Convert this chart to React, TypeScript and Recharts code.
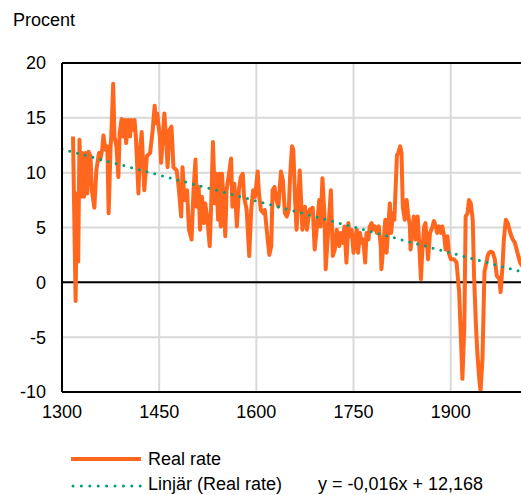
import React from "react";
import { LineChart, Line, XAxis, YAxis, CartesianGrid, ReferenceLine } from "recharts";

const years = [
  1317, 1321, 1323, 1325, 1327, 1329, 1331, 1334, 1336, 1339, 1341, 1344, 1346, 1350, 1353, 1357, 1359, 1362, 1364, 1367,
  1370, 1372, 1375, 1376, 1379, 1381, 1384, 1387, 1389, 1392, 1394, 1397, 1399, 1402, 1405, 1407, 1410, 1412, 1414, 1418,
  1420, 1423, 1427, 1431, 1436, 1440, 1443, 1445, 1447, 1451, 1453, 1456, 1458, 1461, 1463, 1466, 1469, 1472, 1477, 1480,
  1484, 1486, 1489, 1493, 1496, 1500, 1503, 1506, 1508, 1511, 1513, 1516, 1519, 1521, 1524, 1528, 1530, 1533, 1536, 1538,
  1541, 1543, 1545, 1547, 1550, 1552, 1554, 1557, 1561, 1563, 1566, 1570, 1573, 1576, 1579, 1581, 1585, 1589, 1592, 1595,
  1598, 1602, 1604, 1607, 1611, 1613, 1617, 1620, 1623, 1625, 1628, 1631, 1634, 1638, 1641, 1644, 1647, 1650, 1652, 1655,
  1657, 1660, 1662, 1667, 1671, 1675, 1678, 1682, 1687, 1690, 1693, 1697, 1699, 1702, 1705, 1707, 1711, 1715, 1718, 1721,
  1724, 1728, 1730, 1733, 1736, 1739, 1742, 1744, 1747, 1750, 1752, 1755, 1757, 1760, 1762, 1765, 1768, 1770, 1773, 1775,
  1778, 1780, 1783, 1786, 1789, 1792, 1793, 1796, 1799, 1801, 1803, 1806, 1808, 1811, 1813, 1817, 1819, 1822, 1824, 1826,
  1829, 1832, 1834, 1837, 1838, 1841, 1843, 1846, 1849, 1851, 1854, 1856, 1859, 1861, 1865, 1868, 1872, 1874, 1877, 1879,
  1882, 1885, 1887, 1890, 1892, 1895, 1897, 1900, 1905, 1909, 1913, 1916, 1918, 1921, 1923, 1926, 1928, 1931, 1934, 1936,
  1939, 1941, 1944, 1946, 1949, 1952, 1954, 1957, 1959, 1962, 1965, 1968, 1971, 1975, 1977, 1980, 1982, 1985, 1988, 1992,
  1995, 1999, 2003, 2007, 2010,
];

const realRate = [
  13.3, -1.7, 8.1, 1.9, 13.0, 7.8, 11.8, 7.8, 11.8, 8.1, 11.9, 11.5, 8.4, 6.8, 10.2, 11.8, 11.2, 12.1, 13.4, 12.1,
  12.4, 6.3, 12.4, 13.3, 18.1, 13.3, 12.4, 9.6, 13.6, 14.9, 13.3, 14.8, 12.7, 14.8, 13.3, 14.8, 13.9, 14.8, 13.3, 8.1,
  11.8, 13.7, 8.4, 11.5, 11.8, 13.9, 16.1, 14.5, 15.4, 13.3, 10.9, 13.6, 15.4, 12.7, 10.5, 13.9, 14.2, 10.5, 10.2, 8.7,
  6.0, 10.5, 7.5, 8.4, 4.8, 3.9, 8.4, 11.2, 6.9, 8.7, 4.8, 7.8, 5.4, 7.2, 6.0, 3.3, 6.6, 12.8, 7.2, 9.9,
  5.7, 9.9, 5.1, 9.9, 6.9, 4.2, 8.4, 9.6, 11.3, 6.9, 9.0, 5.1, 8.4, 9.6, 9.9, 7.8, 6.6, 2.4, 6.6, 8.4,
  7.8, 10.1, 8.1, 6.6, 6.3, 6.6, 4.2, 2.5, 3.3, 8.4, 8.7, 7.5, 6.9, 10.1, 9.3, 6.3, 6.0, 6.6, 9.6, 12.4,
  12.1, 7.2, 4.8, 10.2, 4.8, 6.9, 4.8, 6.6, 6.8, 3.0, 4.8, 7.5, 5.1, 9.5, 6.3, 1.2, 4.8, 8.4, 2.4, 3.0,
  4.8, 3.3, 4.5, 3.6, 5.1, 1.8, 5.4, 4.2, 4.8, 2.7, 3.9, 4.8, 2.7, 4.5, 3.6, 3.9, 1.8, 4.5, 3.9, 5.1,
  5.4, 4.8, 5.1, 4.5, 5.1, 3.3, 1.2, 3.3, 5.7, 2.7, 4.5, 7.2, 4.5, 6.3, 5.7, 11.6, 11.8, 12.4, 11.8, 6.9,
  5.7, 7.5, 6.3, 5.1, 3.0, 4.8, 6.0, 3.9, 6.0, 3.9, 0.3, 2.7, 5.1, 5.4, 2.1, 4.5, 5.1, 5.6, 5.1, 4.5,
  5.1, 4.5, 5.1, 4.2, 3.0, 4.2, 2.7, 2.1, 2.1, 1.8, -0.9, -5.5, -8.8, -4.0, 6.0, 6.3, 7.5, 7.2, 5.7, 0.6,
  -4.0, -6.4, -8.8, -9.9, -7.0, 0.9, 1.5, 2.4, 2.7, 2.8, 2.7, 2.1, 0.6, 0.3, -0.9, 1.5, 3.9, 5.7, 5.4, 4.5,
  4.0, 3.6, 2.7, 1.8, 1.5,
];

const trendYears = [1300, 2010];
const trendValues = [12.15, 0.95];

const xTicks = [1300, 1450, 1600, 1750, 1900];
const yTicks = [-10, -5, 0, 5, 10, 15, 20];

const seriesName = "Real rate";
const trendName = "Linjär (Real rate)";
const equation = "y = -0,016x + 12,168";
const unitLabel = "Procent";

const realData = years.map((y, i) => ({ year: y, value: realRate[i] }));
const trendData = trendYears.map((y, i) => ({ year: y, value: trendValues[i] }));

const ORANGE = "#FF671F";
const TEAL = "#00A079";
const FONT = "'Liberation Sans', Arial, sans-serif";

export default function App() {
  return (
    <div style={{ position: "fixed", left: 0, top: 0, width: 522, height: 495, background: "#fff", fontFamily: FONT }}>
      <div style={{ position: "absolute", left: 13, top: 9, fontSize: 18, color: "#000", lineHeight: "22px" }}>{unitLabel}</div>
      <LineChart
        width={522}
        height={495}
        data={realData}
        margin={{ top: 63, right: 0, bottom: 73, left: 0 }}
      >
        <CartesianGrid stroke="#d9d9d9" strokeWidth={2} vertical={true} horizontal={true} />
        <XAxis
          dataKey="year"
          type="number"
          domain={[1300, 2010]}
          ticks={xTicks}
          allowDataOverflow
          height={30}
          tickLine={false}
          tickSize={0}
          tickMargin={13}
          axisLine={{ stroke: "#000", strokeWidth: 2 }}
          tick={{ fill: "#000", fontSize: 18, fontFamily: FONT }}
        />
        <YAxis
          type="number"
          domain={[-10, 20]}
          ticks={yTicks}
          allowDataOverflow
          width={62}
          tickLine={false}
          tickSize={0}
          tickMargin={16}
          axisLine={{ stroke: "#000", strokeWidth: 2 }}
          tick={{ fill: "#000", fontSize: 18, fontFamily: FONT }}
        />
        <ReferenceLine y={0} stroke="#000" strokeWidth={2} />
        <ReferenceLine y={20} stroke="#000" strokeWidth={2} />
        <Line
          data={realData}
          dataKey="value"
          type="linear"
          stroke={ORANGE}
          strokeWidth={4}
          strokeLinejoin="round"
          dot={false}
          activeDot={false}
          isAnimationActive={false}
        />
        <Line
          data={trendData}
          dataKey="value"
          type="linear"
          stroke={TEAL}
          strokeWidth={3}
          strokeDasharray="0 8"
          strokeLinecap="round"
          dot={false}
          activeDot={false}
          isAnimationActive={false}
        />
      </LineChart>
      <svg style={{ position: "absolute", left: 0, top: 440 }} width={522} height={55}>
        <line x1={71} y1={19} x2={141} y2={19} stroke={ORANGE} strokeWidth={4} />
        <line x1={73} y1={46} x2={141} y2={46} stroke={TEAL} strokeWidth={3} strokeDasharray="0 8.4" strokeLinecap="round" />
      </svg>
      <div style={{ position: "absolute", left: 148, top: 448, fontSize: 18, lineHeight: "22px", color: "#000", whiteSpace: "nowrap" }}>{seriesName}</div>
      <div style={{ position: "absolute", left: 148, top: 474, fontSize: 18, lineHeight: "21px", color: "#000", whiteSpace: "nowrap" }}>{trendName}</div>
      <div style={{ position: "absolute", left: 318, top: 474, fontSize: 18, lineHeight: "21px", color: "#000", whiteSpace: "nowrap" }}>{equation}</div>
    </div>
  );
}
